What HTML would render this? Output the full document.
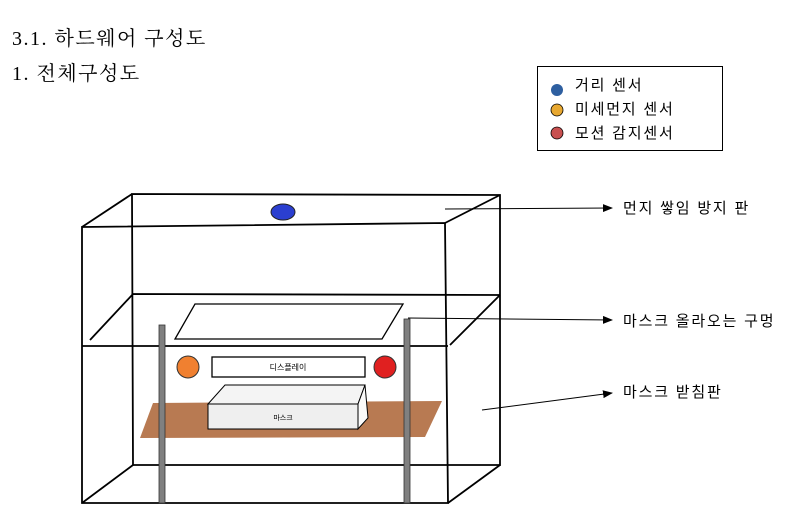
<!DOCTYPE html>
<html><head><meta charset="utf-8"><style>
body{margin:0;background:#fff;width:800px;height:526px;overflow:hidden}
svg text{font-family:"Liberation Sans","Noto Sans CJK KR",sans-serif}
</style></head><body>
<svg width="800" height="526" viewBox="0 0 800 526" xmlns="http://www.w3.org/2000/svg">
<defs><marker id="a" markerWidth="10" markerHeight="8" refX="9" refY="4" orient="auto" markerUnits="userSpaceOnUse"><path d="M0,0 L10,4 L0,8 Z" fill="#000"/></marker></defs>
<text x="12" y="45" font-size="20" letter-spacing="1.5" style="font-family:'Liberation Serif','Noto Serif CJK KR','Noto Serif CJK SC',serif">3.1. 하드웨어 구성도</text>
<text x="12" y="80" font-size="20" letter-spacing="1.5" style="font-family:'Liberation Serif','Noto Serif CJK KR','Noto Serif CJK SC',serif">1. 전체구성도</text>
<rect x="537.5" y="66.5" width="185" height="84" fill="#fff" stroke="#000" stroke-width="1"/>
<circle cx="557" cy="90" r="6" fill="#2e5fa0"/>
<circle cx="557" cy="110" r="6" fill="#e8a830" stroke="#000" stroke-width="0.8"/>
<circle cx="557" cy="133" r="6" fill="#c85050" stroke="#000" stroke-width="0.8"/>
<text x="575" y="86" font-size="15" letter-spacing="1.8" dominant-baseline="middle">거리 센서</text>
<text x="575" y="110" font-size="15" letter-spacing="1.8" dominant-baseline="middle">미세먼지 센서</text>
<text x="575" y="134" font-size="15" letter-spacing="1.8" dominant-baseline="middle">모션 감지센서</text>
<g fill="none" stroke="#000" stroke-width="1.8">
<path d="M82,227 L445,223 L448,503 L82,503 Z"/>
<path d="M132,194 L500,195 L500,465 L133,465 Z"/>
<path d="M132,194 L82,227 M500,195 L445,223 M133,465 L82,503 M500,465 L448,503"/>
<path d="M82,346 L448,346 M133,294 L500,295 M133,294 L90,340 M500,295 L450,345"/>
</g>
<ellipse cx="283" cy="212" rx="12" ry="8" fill="#2b3fd0" stroke="#222" stroke-width="1"/>
<path d="M195,304 L403,304 L382,339 L175,339 Z" fill="#fff" stroke="#000" stroke-width="1.3"/>
<path d="M153,403 L442,401 L425,437 L140,438 Z" fill="#b87a52"/>
<rect x="159" y="325" width="6" height="178" fill="#808080" stroke="#333" stroke-width="0.8"/>
<rect x="404" y="319" width="6" height="184" fill="#808080" stroke="#333" stroke-width="0.8"/>
<circle cx="188" cy="367" r="11" fill="#f08030" stroke="#333" stroke-width="1"/>
<circle cx="385" cy="367" r="11" fill="#e02020" stroke="#333" stroke-width="1"/>
<rect x="212" y="357" width="153" height="20" fill="#fff" stroke="#000" stroke-width="1.3"/>
<text x="288" y="368" font-size="8" text-anchor="middle" dominant-baseline="middle">디스플레이</text>
<path d="M208,404 L225,385 L365,385 L358,404 Z" fill="#f4f4f4" stroke="#000" stroke-width="1"/>
<rect x="208" y="404" width="150" height="25" fill="#efefef" stroke="#000" stroke-width="1"/>
<path d="M358,404 L365,385 L368,418 L358,429 Z" fill="#fafafa" stroke="#000" stroke-width="1"/>
<text x="283" y="418" font-size="7" text-anchor="middle" dominant-baseline="middle">마스크</text>
<g stroke="#000" stroke-width="1" marker-end="url(#a)">
<line x1="445" y1="209" x2="612" y2="208"/>
<line x1="408" y1="318" x2="612" y2="320"/>
<line x1="482" y1="410" x2="612" y2="393"/>
</g>
<text x="623" y="209" font-size="15" letter-spacing="1.8" dominant-baseline="middle">먼지 쌓임 방지 판</text>
<text x="623" y="322" font-size="15" letter-spacing="1.8" dominant-baseline="middle">마스크 올라오는 구멍</text>
<text x="623" y="393" font-size="15" letter-spacing="1.8" dominant-baseline="middle">마스크 받침판</text>
</svg>
</body></html>
